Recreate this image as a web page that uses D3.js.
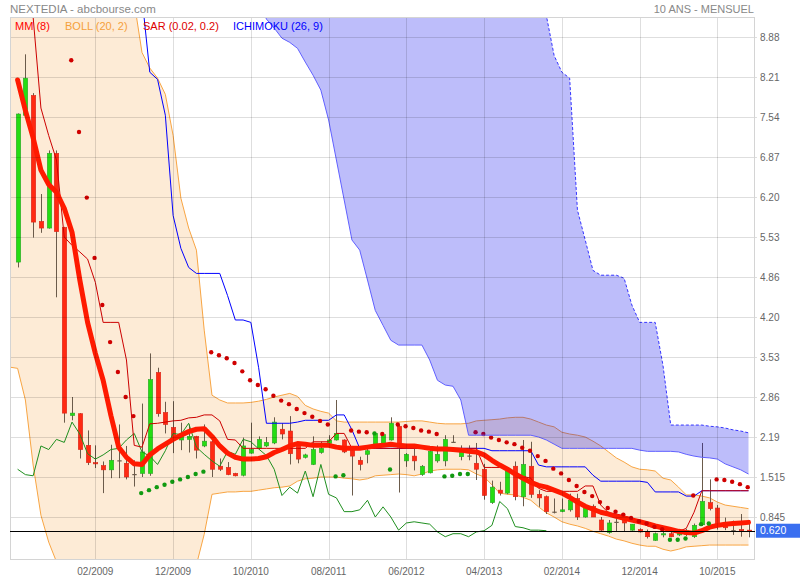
<!DOCTYPE html>
<html><head><meta charset="utf-8">
<script src="https://cdn.jsdelivr.net/npm/d3@7"></script>
<style>
html,body{margin:0;padding:0;background:#fff;}
svg{display:block;font-family:"Liberation Sans",Arial,Helvetica,sans-serif;}
</style></head><body>
<svg id="chart" width="800" height="580"></svg>
<script>
// ---------- DATA (monthly, index 0 = 04/2008) ----------
const xTickIndex = [10,20,30,40,50,60,70,80,90];
const xTickLabels = ["02/2009","12/2009","10/2010","08/2011","06/2012","04/2013","02/2014","12/2014","10/2015"];
const yTickValues = [0.845,1.515,2.185,2.855,3.525,4.195,4.865,5.535,6.205,6.875,7.545,8.215,8.885];
const yTickLabels = ["0.845","1.515","2.19","2.86","3.53","4.20","4.86","5.53","6.20","6.87","7.54","8.21","8.88"];
const lastPrice = 0.620;

const open = [5.12,7.58,7.91,5.80,5.69,6.94,5.70,2.55,2.58,2.05,
1.76,1.71,1.64,1.80,1.75,1.57,1.58,1.58,3.27,2.60,
2.35,2.14,2.15,2.20,2.04,2.11,1.70,1.68,1.58,1.55,
1.92,2.00,2.04,2.09,2.32,2.29,2.06,1.85,1.73,1.93,
2.08,2.14,2.14,1.97,1.80,1.90,2.05,2.08,2.14,2.37,
1.79,1.87,1.56,1.59,1.79,1.79,2.11,1.86,1.88,1.75,
1.65,1.09,1.30,1.25,1.70,1.19,1.70,1.23,1.19,0.94,
0.94,0.97,1.16,0.85,1.03,0.80,0.59,0.77,0.79,0.63,
0.64,0.60,0.46,0.55,0.57,0.55,0.56,0.52,0.72,1.09,
1.00,0.73,0.63,0.64,0.63];
const high = [7.61,8.60,7.95,6.26,6.99,6.99,5.71,2.86,2.59,2.30,
2.05,1.78,2.06,2.40,2.04,1.80,2.75,3.59,3.35,2.78,
2.79,2.43,2.40,2.21,2.40,2.17,1.83,1.77,1.59,2.18,
2.43,2.20,2.19,2.52,2.42,2.54,2.07,1.91,2.20,2.11,
2.22,2.81,2.15,2.04,1.86,2.03,2.27,2.25,2.52,2.39,
1.92,1.99,1.72,1.97,2.05,2.22,2.22,2.05,2.05,2.09,
1.74,1.46,1.44,1.66,1.78,2.14,2.11,1.30,1.21,1.16,
1.16,1.24,1.24,1.06,1.06,0.85,0.80,0.86,0.85,0.73,
0.66,0.64,0.59,0.61,0.60,0.62,0.65,0.74,2.09,1.48,
1.05,0.84,0.79,0.90,0.80];
const low = [5.03,7.54,5.53,5.61,5.68,4.53,2.43,2.47,1.83,1.72,
1.67,1.25,1.50,1.50,1.48,1.36,1.52,1.54,2.53,2.25,
1.92,1.97,1.93,1.83,2.02,1.52,1.62,1.55,1.53,1.53,
1.91,1.98,2.02,2.07,2.15,1.73,1.75,1.83,1.72,1.91,
2.06,2.13,1.92,1.21,1.63,1.75,2.04,2.07,2.13,1.26,
1.69,1.63,1.54,1.58,1.76,1.70,2.10,1.80,1.80,1.47,
1.14,1.07,1.21,1.23,1.13,1.03,1.17,1.02,0.90,0.91,
0.93,0.94,0.80,0.84,0.85,0.61,0.57,0.61,0.61,0.62,
0.59,0.49,0.45,0.51,0.51,0.53,0.53,0.50,0.70,0.96,
0.64,0.63,0.55,0.52,0.51];
const close = [7.60,8.20,5.79,5.69,6.94,5.63,2.59,2.59,1.98,1.76,
1.74,1.64,1.80,1.80,1.52,1.57,1.94,3.15,2.58,2.40,
2.14,2.21,2.20,1.97,2.12,1.65,1.65,1.56,1.54,2.04,
1.98,2.15,2.10,2.44,2.24,1.91,1.82,1.89,1.98,2.00,
2.14,2.25,1.94,1.87,1.73,1.96,2.25,2.23,2.42,2.02,
1.90,1.79,1.70,1.95,1.90,2.15,2.11,1.99,1.88,1.65,
1.21,1.35,1.25,1.62,1.19,1.73,1.23,1.17,0.94,0.94,
0.97,1.13,0.85,1.02,0.85,0.63,0.75,0.77,0.75,0.73,
0.60,0.52,0.57,0.57,0.52,0.60,0.62,0.71,1.11,0.99,
0.69,0.67,0.63,0.63,0.62];

// MM (8)
const mm8 = [8.17,7.66,7.20,6.66,6.42,6.29,6.02,5.62,4.82,4.11,
3.59,3.14,2.55,2.02,1.85,1.74,1.73,1.89,1.99,2.07,
2.15,2.22,2.28,2.32,2.33,2.20,2.04,1.92,1.85,1.82,
1.82,1.83,1.86,1.93,1.98,2.04,2.08,2.07,2.05,2.05,
2.05,2.02,2.00,2.00,2.00,2.02,2.04,2.05,2.07,2.05,
2.04,2.04,2.02,2.00,1.99,1.99,1.98,1.97,1.95,1.94,
1.89,1.80,1.72,1.65,1.57,1.50,1.43,1.38,1.35,1.30,
1.25,1.18,1.10,1.03,0.98,0.93,0.90,0.86,0.83,0.80,
0.77,0.74,0.70,0.67,0.64,0.61,0.59,0.58,0.62,0.68,
0.71,0.73,0.74,0.75,0.76];

// BOLL (20, 2) : index -1 .. 94
const bollStart = -1;
const bollUpper = [10.8,10.9,11.0,11.0,10.9,10.8,10.7,10.6,10.5,10.4,10.3,10.2,10.1,10.0,9.9,9.75,
9.47,8.63,8.37,8.20,7.93,7.24,6.19,5.69,5.32,3.98,
2.89,2.81,2.76,2.76,2.76,2.77,2.79,2.82,2.86,2.89,
2.92,2.87,2.72,2.66,2.62,2.59,2.46,2.44,2.44,2.44,
2.44,2.44,2.44,2.44,2.44,2.45,2.46,2.46,2.44,2.42,
2.41,2.41,2.41,2.42,2.46,2.47,2.48,2.49,2.51,2.52,
2.52,2.49,2.44,2.39,2.36,2.27,2.24,2.22,2.19,2.12,
2.04,1.94,1.84,1.77,1.69,1.65,1.64,1.62,1.50,1.47,
1.35,1.22,1.22,1.20,1.17,1.10,1.05,1.03,1.01,0.99];
const bollLower = [3.36,3.34,2.81,1.72,0.88,0.43,0.10,-0.3,-0.7,-1.0,
-1.2,-1.4,-1.5,-1.6,-1.6,-1.5,-1.4,-1.3,-1.2,-1.0,
-0.8,-0.6,-0.4,-0.2,0.05,0.56,1.23,1.25,1.27,1.27,
1.28,1.28,1.30,1.32,1.34,1.35,1.37,1.45,1.49,1.50,
1.52,1.52,1.52,1.50,1.49,1.47,1.49,1.54,1.55,1.56,
1.57,1.56,1.54,1.57,1.62,1.64,1.65,1.65,1.65,1.64,
1.57,1.52,1.39,1.25,1.23,1.22,1.18,1.13,1.02,0.92,
0.85,0.77,0.73,0.70,0.66,0.61,0.57,0.53,0.48,0.45,
0.41,0.38,0.36,0.36,0.31,0.28,0.31,0.35,0.36,0.37,
0.38,0.38,0.38,0.38,0.38,0.38];

// SAR (0.02, 0.2)
const sar = [null,null,null,null,null,null,null,8.50,7.30,6.20,
5.19,4.40,3.78,3.28,2.86,2.54,1.25,1.30,1.35,1.39,
1.44,1.48,1.52,1.57,1.61,3.61,3.56,3.51,3.43,3.29,
3.14,3.06,2.99,2.88,2.80,2.74,2.66,2.59,2.53,2.46,
2.40,1.53,1.55,2.30,2.28,2.27,2.25,2.24,1.645,2.40,
2.37,2.34,2.30,2.28,2.24,1.53,1.54,1.57,1.57,2.27,
2.24,2.18,2.14,2.10,2.07,2.01,1.96,1.87,1.79,1.66,
1.58,1.47,1.37,1.27,1.20,1.10,1.00,0.94,0.89,0.835,
0.78,0.74,0.685,0.645,0.47,0.47,0.49,1.21,0.73,0.74,
1.48,1.47,1.44,1.40,1.35];

// ICHIMOKU (26, 9)
const tenkan = [9.9,9.6,9.22,7.70,7.24,6.83,5.54,5.40,5.29,5.17,
4.78,4.11,4.11,4.11,3.48,2.05,2.02,2.41,2.42,2.44,
2.46,2.47,2.51,2.52,2.56,2.56,2.46,2.15,2.14,2.00,
2.00,2.00,2.00,2.00,2.00,2.00,2.00,2.00,2.11,2.11,
2.11,2.25,2.25,2.00,2.00,2.00,2.00,2.00,2.00,2.00,
2.00,2.00,2.00,2.00,2.00,2.00,2.00,2.00,2.00,2.00,
1.68,1.68,1.68,1.68,1.58,1.53,1.50,1.33,1.28,1.28,
1.28,1.28,1.28,1.37,1.37,1.05,0.92,0.90,0.87,0.83,
0.78,0.70,0.66,0.65,0.63,0.61,0.66,0.93,1.29,1.29,
1.29,1.29,1.29,1.29,1.29];
const kijun = [10.4,10.4,10.3,10.3,10.2,10.2,10.1,10.0,10.0,9.9,
9.9,9.8,9.8,9.7,9.7,9.65,9.55,8.30,8.18,7.58,
5.90,5.35,5.03,4.93,4.93,4.93,4.93,4.56,4.15,4.15,
4.11,3.35,2.42,2.42,2.42,2.42,2.44,2.47,2.47,2.47,
2.47,2.56,2.56,2.31,2.00,2.00,2.00,2.00,2.00,2.00,
2.00,2.00,2.00,2.00,2.00,2.00,2.00,2.00,2.00,2.00,
2.00,1.96,1.96,1.96,1.96,1.96,1.96,1.72,1.69,1.69,
1.69,1.69,1.69,1.69,1.55,1.45,1.45,1.45,1.45,1.45,
1.45,1.43,1.27,1.27,1.27,1.27,1.20,1.20,1.29,1.29,
1.29,1.29,1.29,1.29,1.29];
// chikou: index 0 .. 68
const chikou = [1.65,1.56,1.54,2.04,1.98,2.15,2.10,2.44,2.24,1.91,
1.82,1.89,1.98,2.00,2.14,2.25,1.94,1.87,1.73,1.96,
2.25,2.23,2.42,2.02,1.90,1.79,1.70,1.95,1.90,2.15,
2.11,1.99,1.88,1.65,1.21,1.35,1.25,1.62,1.19,1.73,
1.23,1.17,0.94,0.94,0.97,1.13,0.85,1.02,0.85,0.63,
0.75,0.77,0.75,0.73,0.60,0.52,0.57,0.57,0.52,0.60,
0.62,0.71,1.11,0.99,0.69,0.67,0.63,0.63,0.62];
// cloud: index 30 .. 94
const cloudStart = 30;
const senkouA = [9.8,9.5,9.19,9.04,8.87,8.80,8.70,8.47,8.25,8.00,
7.50,6.83,6.16,5.49,5.32,4.82,4.31,4.06,3.81,3.73,
3.73,3.73,3.73,3.48,3.14,3.06,3.04,2.81,2.22,2.22,
2.22,2.22,2.22,2.22,2.22,2.22,2.22,2.19,2.14,2.07,
2.00,2.00,2.00,2.00,2.00,2.00,2.00,2.00,2.00,2.00,
1.97,1.95,1.95,1.95,1.95,1.94,1.90,1.87,1.85,1.84,
1.82,1.74,1.69,1.64,1.57];
const senkouB = [11.6,11.6,11.5,11.5,11.4,11.4,11.3,11.3,11.2,11.2,
11.1,11.1,11.0,11.0,10.9,10.9,10.8,10.8,10.7,10.7,
10.6,10.6,10.5,10.5,10.4,10.4,10.3,10.3,10.2,10.2,
10.1,10.0,10.0,9.9,9.8,9.7,9.6,9.5,9.25,8.58,
8.30,8.20,5.99,5.49,4.98,4.90,4.90,4.90,4.85,4.40,
4.11,4.11,4.11,3.39,2.39,2.39,2.39,2.39,2.39,2.37,
2.36,2.34,2.31,2.29,2.26];

// ---------- CHART ----------
const svg = d3.select("#chart");
const P = {left:10, right:755, top:17, bottom:559.5};
const x = d3.scaleLinear().domain([0,94]).range([17.6,748.5]);
const y = d3.scaleLinear().domain([0.845,8.885]).range([517.3,37.3]);

svg.append("rect").attr("width",800).attr("height",580).attr("fill","#fff");
svg.append("defs").append("clipPath").attr("id","clip")
  .append("rect").attr("x",P.left).attr("y",P.top).attr("width",P.right-P.left).attr("height",P.bottom-P.top);
const g = svg.append("g").attr("clip-path","url(#clip)");

// Bollinger
const boll = bollUpper.map((u,k)=>({i:k+bollStart, up:u, lo:bollLower[k]}));
g.append("path").datum(boll)
  .attr("d", d3.area().x(d=>x(d.i)).y0(d=>y(d.lo)).y1(d=>y(d.up)))
  .attr("fill","#fdebd6");
["up","lo"].forEach(k=>{
  g.append("path").datum(boll)
   .attr("d", d3.line().x(d=>x(d.i)).y(d=>y(d[k])))
   .attr("fill","none").attr("stroke","#f8a543").attr("stroke-width",1);
});

// grid
const grid = svg.append("g");
grid.selectAll(".hg").data(yTickValues).join("line")
  .attr("x1",P.left).attr("x2",P.right+2)
  .attr("y1",d=>Math.round(y(d))+0.5).attr("y2",d=>Math.round(y(d))+0.5)
  .attr("stroke","rgba(0,0,0,0.13)");
grid.selectAll(".vg").data(xTickIndex).join("line")
  .attr("y1",P.top).attr("y2",P.bottom)
  .attr("x1",d=>Math.round(x(d))+0.5).attr("x2",d=>Math.round(x(d))+0.5)
  .attr("stroke","rgba(0,0,0,0.13)");
svg.append("rect").attr("x",P.left+0.5).attr("y",P.top+0.5)
  .attr("width",P.right-P.left-1).attr("height",P.bottom-P.top-0.5)
  .attr("fill","none").attr("stroke","#d4d4d4");

// candles
const candles = open.map((o,i)=>({i, o, h:high[i], l:low[i], c:close[i]}));
const cg = g.append("g");
cg.selectAll("line").data(candles).join("line")
  .attr("x1",d=>Math.round(x(d.i))+0.5).attr("x2",d=>Math.round(x(d.i))+0.5)
  .attr("y1",d=>y(d.h)).attr("y2",d=>y(d.l))
  .attr("stroke","#6b5b4b").attr("stroke-width",1);
cg.selectAll("rect").data(candles).join("rect")
  .attr("x",d=>Math.round(x(d.i))-1.7).attr("width",4.4)
  .attr("y",d=>y(Math.max(d.o,d.c)))
  .attr("height",d=>Math.max(1.2, Math.abs(y(d.o)-y(d.c))))
  .attr("fill",d=>d.c>d.o?"#25dd12":(d.c<d.o?"#ff2a12":"#6b5b4b"))
  .attr("stroke",d=>d.c>d.o?"#2aa62a":(d.c<d.o?"#d8261a":"none"))
  .attr("stroke-width",0.6);

const lineI = d3.line().defined(d=>d.v!=null).x(d=>x(d.i)).y(d=>y(d.v));
// chikou
g.append("path").datum(chikou.map((v,i)=>({i,v})))
  .attr("d",lineI).attr("fill","none").attr("stroke","#1f8f1f").attr("stroke-width",1);
// kijun
g.append("path").datum(kijun.map((v,i)=>({i,v})))
  .attr("d",lineI).attr("fill","none").attr("stroke","#0000ff").attr("stroke-width",1);
// tenkan
g.append("path").datum(tenkan.map((v,i)=>({i,v})))
  .attr("d",lineI).attr("fill","none").attr("stroke","#cc0000").attr("stroke-width",1);
// MM8
g.append("path").datum(mm8.map((v,i)=>({i,v})))
  .attr("d",lineI).attr("fill","none").attr("stroke","#ff1a00").attr("stroke-width",5)
  .attr("stroke-linejoin","round").attr("stroke-linecap","round");

// SAR
g.selectAll(".sar").data(sar.map((v,i)=>({i,v})).filter(d=>d.v!=null)).join("circle")
  .attr("cx",d=>x(d.i)-0.8).attr("cy",d=>y(d.v)).attr("r",2.2)
  .attr("fill",d=>d.v>close[d.i]?"#d00000":"#119a11");

// cloud
const cloud = senkouA.map((a,k)=>({i:k+cloudStart, a, b:senkouB[k]}));
g.append("path").datum(cloud)
  .attr("d", d3.area().x(d=>x(d.i)).y0(d=>y(d.a)).y1(d=>y(d.b)))
  .attr("fill","rgba(0,0,235,0.26)");
g.append("path").datum(cloud)
  .attr("d", d3.line().x(d=>x(d.i)).y(d=>y(d.b)))
  .attr("fill","none").attr("stroke","#3535ff").attr("stroke-width",1).attr("stroke-dasharray","3,2");
g.append("path").datum(cloud)
  .attr("d", d3.line().x(d=>x(d.i)).y(d=>y(d.a)))
  .attr("fill","none").attr("stroke","#6060ff").attr("stroke-width",1);

// last price line
svg.append("line").attr("x1",P.left).attr("x2",P.right)
  .attr("y1",Math.round(y(lastPrice))+0.5).attr("y2",Math.round(y(lastPrice))+0.5)
  .attr("stroke","#000").attr("stroke-width",1);

// y labels
svg.selectAll(".yl").data(yTickValues).join("text")
  .attr("x",760).attr("y",d=>y(d)+3.5)
  .attr("font-size",10).attr("fill","#666")
  .text((d,k)=>yTickLabels[k]);
// x labels
svg.selectAll(".xl").data(xTickIndex).join("text")
  .attr("x",d=>x(d)).attr("y",575).attr("text-anchor","middle")
  .attr("font-size",10).attr("fill","#666")
  .text((d,k)=>xTickLabels[k]);

// last price tag
const ly = y(lastPrice);
svg.append("rect").attr("x",756).attr("y",ly-7).attr("width",44).attr("height",14).attr("fill","#3a6ff0");
svg.append("text").attr("x",760).attr("y",ly+3.7).attr("font-size",10.5).attr("fill","#fff").text(lastPrice.toFixed(3));

// titles
svg.append("text").attr("x",10).attr("y",13).attr("font-size",11.5).attr("fill","#888").text("NEXTEDIA - abcbourse.com");
svg.append("text").attr("x",754).attr("y",13).attr("text-anchor","end").attr("font-size",11).attr("fill","#888").text("10 ANS - MENSUEL");

// legend
const legend = [
  {t:"MM (8)", c:"#ff0000", x:15},
  {t:"BOLL (20, 2)", c:"#f5a03a", x:65},
  {t:"SAR (0.02, 0.2)", c:"#dd0000", x:143},
  {t:"ICHIMOKU (26, 9)", c:"#0000ff", x:233}
];
svg.selectAll(".lg").data(legend).join("text")
  .attr("x",d=>d.x).attr("y",29.5).attr("font-size",11).attr("fill",d=>d.c).text(d=>d.t);
</script>
</body></html>
